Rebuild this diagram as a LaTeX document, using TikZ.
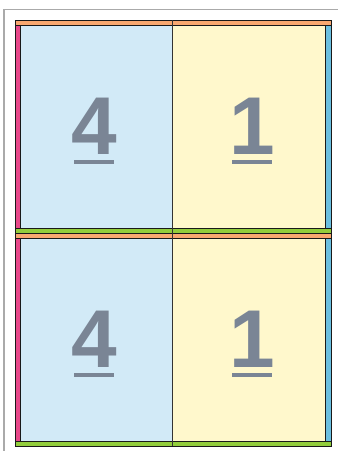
\documentclass[tikz,border=0pt]{standalone}
\usepackage{fontspec}
\setmainfont{Liberation Sans}
\usetikzlibrary{positioning}
\definecolor{cellblue}{HTML}{D2EAF7}
\definecolor{cellyellow}{HTML}{FFF8CC}
\definecolor{stripor}{HTML}{F9A870}
\definecolor{strippink}{HTML}{E8488A}
\definecolor{stripblue}{HTML}{6BBFE0}
\definecolor{stripgreen}{HTML}{92CD3C}
\definecolor{digitgray}{HTML}{7A8595}
\definecolor{framegray}{HTML}{AAAAAA}
\begin{document}
\begin{tikzpicture}[
    x=1pt, y=-1pt,
    cell/.style={
        draw=black!60,
        line width=0.6pt
    },
    strip/.style={
        draw=black!90,
        line width=0.7pt
    },
    digit/.style={
        anchor=base,
        inner sep=0pt,
        text=digitgray,
        font=\fontsize{82}{82}\selectfont\bfseries
    },
    bar/.style={
        fill=digitgray
    }
]
\useasboundingbox (0,0) rectangle (338,451);

% Outer frame
\draw[framegray, line width=1pt] (4,451) -- (4,9) -- (338,9);

% Upper row
\filldraw[cell, fill=cellblue]   (20,25)  rectangle (172,228);
\filldraw[cell, fill=cellyellow] (172,25) rectangle (325,228);

% Lower row
\filldraw[cell, fill=cellblue]   (20,238)  rectangle (172,441);
\filldraw[cell, fill=cellyellow] (172,238) rectangle (325,441);

% Side strips
\filldraw[strip, fill=strippink] (15,25)  rectangle (20,228);
\filldraw[strip, fill=strippink] (15,238) rectangle (20,441);
\filldraw[strip, fill=stripblue] (325,25)  rectangle (331,228);
\filldraw[strip, fill=stripblue] (325,238) rectangle (331,441);

% Cross strips
\filldraw[strip, fill=stripor]    (15,20)  rectangle (331,25);
\filldraw[strip, fill=stripgreen] (15,228) rectangle (331,233);
\filldraw[strip, fill=stripor]    (15,233) rectangle (331,238);
\filldraw[strip, fill=stripgreen] (15,441) rectangle (331,446);

% Divider
\draw[black!80, line width=1pt] (172,20) -- (172,446);

% Page numbers
\node[digit] (upleft)  at (94,154)  {4};
\node[digit] (upright) at (252,154) {1};
\node[digit] (lowleft)  at (94,367)  {4};
\node[digit] (lowright) at (252,367) {1};

\foreach \n in {upleft, upright, lowleft, lowright}
    \fill[bar] ([xshift=-20pt, yshift=-6pt]\n.base) rectangle ([xshift=20pt, yshift=-10pt]\n.base);

\end{tikzpicture}
\end{document}
